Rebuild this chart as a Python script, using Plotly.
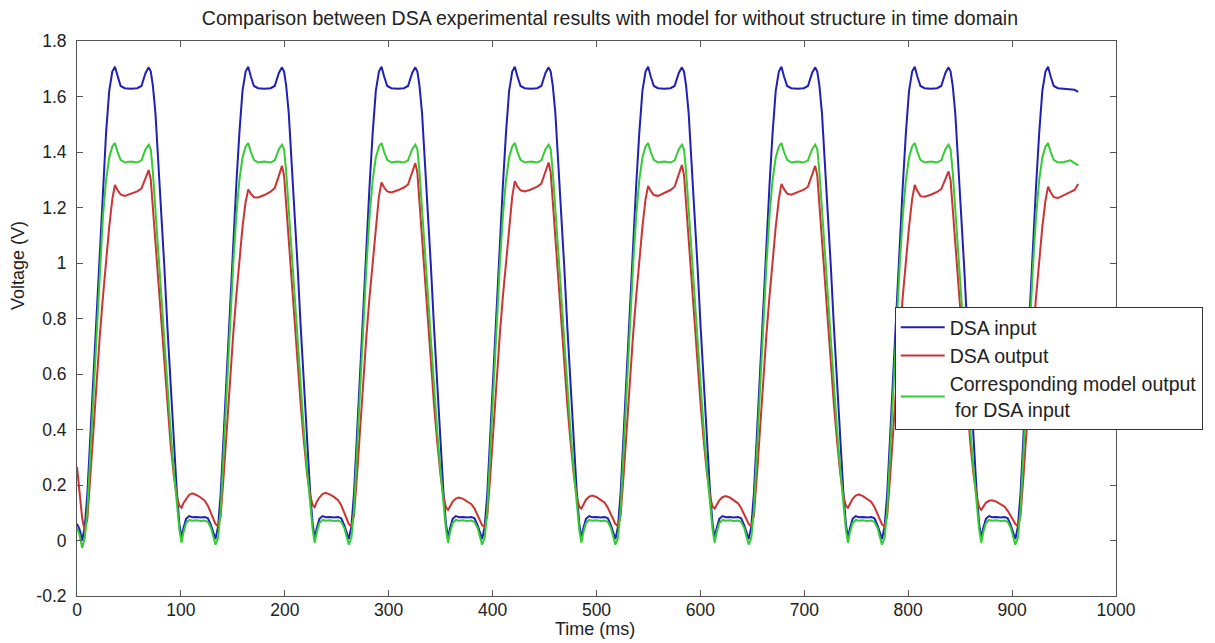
import plotly.graph_objects as go

# Sample times (ms), shared by the three traces
TIME_MS = [
    0, 2.5,
    5, 7.5, 10, 13, 16, 19, 22, 25, 28, 31, 34, 36.5, 39, 42, 46, 52, 58, 62, 66, 69, 71, 73, 75.5, 78, 81, 84, 87, 90, 93, 96, 98.5, 100.5, 102.5, 105, 108, 111, 115, 119, 123, 126, 129, 131.5,
    133.3, 135.8, 138.3, 141.3, 144.3, 147.3, 150.3, 153.3, 156.3, 159.3, 162.3, 164.8, 167.3, 170.3, 174.3, 180.3, 186.3, 190.3, 194.3, 197.3, 199.3, 201.3, 203.8, 206.3, 209.3, 212.3, 215.3, 218.3, 221.3, 224.3, 226.8, 228.8, 230.8, 233.3, 236.3, 239.3, 243.3, 247.3, 251.3, 254.3, 257.3, 259.8,
    261.6, 264.1, 266.6, 269.6, 272.6, 275.6, 278.6, 281.6, 284.6, 287.6, 290.6, 293.1, 295.6, 298.6, 302.6, 308.6, 314.6, 318.6, 322.6, 325.6, 327.6, 329.6, 332.1, 334.6, 337.6, 340.6, 343.6, 346.6, 349.6, 352.6, 355.1, 357.1, 359.1, 361.6, 364.6, 367.6, 371.6, 375.6, 379.6, 382.6, 385.6, 388.1,
    389.9, 392.4, 394.9, 397.9, 400.9, 403.9, 406.9, 409.9, 412.9, 415.9, 418.9, 421.4, 423.9, 426.9, 430.9, 436.9, 442.9, 446.9, 450.9, 453.9, 455.9, 457.9, 460.4, 462.9, 465.9, 468.9, 471.9, 474.9, 477.9, 480.9, 483.4, 485.4, 487.4, 489.9, 492.9, 495.9, 499.9, 503.9, 507.9, 510.9, 513.9, 516.4,
    518.2, 520.7, 523.2, 526.2, 529.2, 532.2, 535.2, 538.2, 541.2, 544.2, 547.2, 549.7, 552.2, 555.2, 559.2, 565.2, 571.2, 575.2, 579.2, 582.2, 584.2, 586.2, 588.7, 591.2, 594.2, 597.2, 600.2, 603.2, 606.2, 609.2, 611.7, 613.7, 615.7, 618.2, 621.2, 624.2, 628.2, 632.2, 636.2, 639.2, 642.2, 644.7,
    646.5, 649, 651.5, 654.5, 657.5, 660.5, 663.5, 666.5, 669.5, 672.5, 675.5, 678, 680.5, 683.5, 687.5, 693.5, 699.5, 703.5, 707.5, 710.5, 712.5, 714.5, 717, 719.5, 722.5, 725.5, 728.5, 731.5, 734.5, 737.5, 740, 742, 744, 746.5, 749.5, 752.5, 756.5, 760.5, 764.5, 767.5, 770.5, 773,
    774.8, 777.3, 779.8, 782.8, 785.8, 788.8, 791.8, 794.8, 797.8, 800.8, 803.8, 806.3, 808.8, 811.8, 815.8, 821.8, 827.8, 831.8, 835.8, 838.8, 840.8, 842.8, 845.3, 847.8, 850.8, 853.8, 856.8, 859.8, 862.8, 865.8, 868.3, 870.3, 872.3, 874.8, 877.8, 880.8, 884.8, 888.8, 892.8, 895.8, 898.8, 901.3,
    903.1, 905.6, 908.1, 911.1, 914.1, 917.1, 920.1, 923.1, 926.1, 929.1, 932.1, 934.6, 937.1, 940.1, 944.1, 950.1, 956.1, 960.1, 963.6,
]

# DSA input voltage (V)
DSA_INPUT_V = [
    0.06, 0.04,
    0.0, 0.05, 0.17, 0.39, 0.62, 0.85, 1.07, 1.28, 1.47, 1.62, 1.69, 1.707, 1.672, 1.638, 1.630, 1.628, 1.630, 1.638, 1.685, 1.705, 1.69, 1.64, 1.54, 1.39, 1.20, 0.99, 0.77, 0.56, 0.36, 0.18, 0.06, 0.01, 0.045, 0.078, 0.088, 0.084, 0.085, 0.083, 0.085, 0.08, 0.055, 0.02,
    0.005, 0.05, 0.17, 0.39, 0.62, 0.85, 1.07, 1.28, 1.47, 1.62, 1.69, 1.707, 1.672, 1.638, 1.630, 1.628, 1.630, 1.638, 1.685, 1.705, 1.69, 1.64, 1.54, 1.39, 1.20, 0.99, 0.77, 0.56, 0.36, 0.18, 0.06, 0.01, 0.045, 0.078, 0.088, 0.084, 0.085, 0.083, 0.085, 0.08, 0.055, 0.02,
    0.005, 0.05, 0.17, 0.39, 0.62, 0.85, 1.07, 1.28, 1.47, 1.62, 1.69, 1.707, 1.672, 1.638, 1.630, 1.628, 1.630, 1.638, 1.685, 1.705, 1.69, 1.64, 1.54, 1.39, 1.20, 0.99, 0.77, 0.56, 0.36, 0.18, 0.06, 0.01, 0.045, 0.078, 0.088, 0.084, 0.085, 0.083, 0.085, 0.08, 0.055, 0.02,
    0.005, 0.05, 0.17, 0.39, 0.62, 0.85, 1.07, 1.28, 1.47, 1.62, 1.69, 1.707, 1.672, 1.638, 1.630, 1.628, 1.630, 1.638, 1.685, 1.705, 1.69, 1.64, 1.54, 1.39, 1.20, 0.99, 0.77, 0.56, 0.36, 0.18, 0.06, 0.01, 0.045, 0.078, 0.088, 0.084, 0.085, 0.083, 0.085, 0.08, 0.055, 0.02,
    0.005, 0.05, 0.17, 0.39, 0.62, 0.85, 1.07, 1.28, 1.47, 1.62, 1.69, 1.707, 1.672, 1.638, 1.630, 1.628, 1.630, 1.638, 1.685, 1.705, 1.69, 1.64, 1.54, 1.39, 1.20, 0.99, 0.77, 0.56, 0.36, 0.18, 0.06, 0.01, 0.045, 0.078, 0.088, 0.084, 0.085, 0.083, 0.085, 0.08, 0.055, 0.02,
    0.005, 0.05, 0.17, 0.39, 0.62, 0.85, 1.07, 1.28, 1.47, 1.62, 1.69, 1.707, 1.672, 1.638, 1.630, 1.628, 1.630, 1.638, 1.685, 1.705, 1.69, 1.64, 1.54, 1.39, 1.20, 0.99, 0.77, 0.56, 0.36, 0.18, 0.06, 0.01, 0.045, 0.078, 0.088, 0.084, 0.085, 0.083, 0.085, 0.08, 0.055, 0.02,
    0.005, 0.05, 0.17, 0.39, 0.62, 0.85, 1.07, 1.28, 1.47, 1.62, 1.69, 1.707, 1.672, 1.638, 1.630, 1.628, 1.630, 1.638, 1.685, 1.705, 1.69, 1.64, 1.54, 1.39, 1.20, 0.99, 0.77, 0.56, 0.36, 0.18, 0.06, 0.01, 0.045, 0.078, 0.088, 0.084, 0.085, 0.083, 0.085, 0.08, 0.055, 0.02,
    0.005, 0.05, 0.17, 0.39, 0.62, 0.85, 1.07, 1.28, 1.47, 1.62, 1.69, 1.707, 1.672, 1.638, 1.630, 1.628, 1.628, 1.624, 1.617,
]

# DSA output voltage (V)
DSA_OUTPUT_V = [
    0.265, 0.16,
    0.08, 0.035, 0.08, 0.24, 0.42, 0.59, 0.74, 0.88, 1.01, 1.13, 1.23, 1.281, 1.263, 1.247, 1.242, 1.25, 1.258, 1.268, 1.305, 1.335, 1.30, 1.20, 1.07, 0.95, 0.79, 0.63, 0.48, 0.35, 0.24, 0.16, 0.125, 0.118, 0.135, 0.15, 0.165, 0.17, 0.164, 0.155, 0.143, 0.125, 0.10, 0.075,
    0.06, 0.05, 0.09, 0.24, 0.42, 0.59, 0.74, 0.88, 1.01, 1.13, 1.22, 1.265, 1.25, 1.237, 1.236, 1.245, 1.257, 1.27, 1.315, 1.35, 1.315, 1.21, 1.08, 0.96, 0.8, 0.64, 0.49, 0.36, 0.245, 0.165, 0.128, 0.12, 0.14, 0.155, 0.167, 0.172, 0.166, 0.157, 0.145, 0.127, 0.102, 0.075,
    0.06, 0.05, 0.09, 0.24, 0.42, 0.59, 0.74, 0.88, 1.01, 1.14, 1.24, 1.29, 1.272, 1.258, 1.254, 1.262, 1.272, 1.283, 1.325, 1.36, 1.325, 1.22, 1.085, 0.96, 0.8, 0.64, 0.49, 0.36, 0.245, 0.16, 0.12, 0.11, 0.125, 0.14, 0.151, 0.155, 0.15, 0.142, 0.131, 0.115, 0.092, 0.07,
    0.055, 0.05, 0.09, 0.24, 0.42, 0.59, 0.74, 0.88, 1.01, 1.14, 1.24, 1.295, 1.276, 1.262, 1.258, 1.265, 1.275, 1.286, 1.328, 1.362, 1.327, 1.22, 1.085, 0.96, 0.8, 0.64, 0.49, 0.36, 0.245, 0.16, 0.122, 0.115, 0.132, 0.147, 0.158, 0.162, 0.157, 0.148, 0.136, 0.118, 0.095, 0.07,
    0.06, 0.05, 0.09, 0.24, 0.42, 0.59, 0.74, 0.88, 1.01, 1.13, 1.23, 1.278, 1.26, 1.245, 1.242, 1.252, 1.263, 1.275, 1.318, 1.353, 1.318, 1.21, 1.08, 0.96, 0.8, 0.64, 0.49, 0.36, 0.245, 0.16, 0.122, 0.115, 0.13, 0.145, 0.156, 0.16, 0.155, 0.146, 0.134, 0.117, 0.094, 0.07,
    0.06, 0.05, 0.09, 0.24, 0.42, 0.59, 0.74, 0.88, 1.01, 1.13, 1.23, 1.285, 1.266, 1.25, 1.246, 1.254, 1.264, 1.275, 1.316, 1.35, 1.315, 1.21, 1.08, 0.96, 0.8, 0.64, 0.49, 0.36, 0.245, 0.162, 0.125, 0.118, 0.135, 0.15, 0.162, 0.166, 0.16, 0.151, 0.139, 0.121, 0.097, 0.072,
    0.058, 0.05, 0.09, 0.24, 0.42, 0.59, 0.74, 0.88, 1.01, 1.13, 1.23, 1.281, 1.26, 1.241, 1.239, 1.246, 1.256, 1.266, 1.302, 1.33, 1.298, 1.2, 1.07, 0.95, 0.79, 0.63, 0.48, 0.35, 0.24, 0.16, 0.12, 0.11, 0.122, 0.136, 0.143, 0.145, 0.14, 0.132, 0.122, 0.107, 0.088, 0.068,
    0.06, 0.05, 0.09, 0.24, 0.42, 0.59, 0.74, 0.88, 1.01, 1.13, 1.225, 1.275, 1.255, 1.237, 1.234, 1.245, 1.255, 1.263, 1.285,
]

# Model output for the DSA input (V)
MODEL_OUTPUT_V = [
    0.045, 0.02,
    -0.027, 0.01, 0.11, 0.33, 0.56, 0.78, 0.99, 1.17, 1.30, 1.38, 1.42, 1.432, 1.40, 1.372, 1.362, 1.366, 1.362, 1.37, 1.41, 1.426, 1.41, 1.33, 1.19, 1.05, 0.89, 0.72, 0.56, 0.40, 0.26, 0.13, 0.04, -0.008, 0.03, 0.063, 0.074, 0.071, 0.073, 0.07, 0.072, 0.067, 0.045, 0.01,
    -0.015, 0.01, 0.11, 0.33, 0.56, 0.78, 0.99, 1.17, 1.30, 1.38, 1.42, 1.432, 1.40, 1.372, 1.362, 1.366, 1.362, 1.37, 1.41, 1.426, 1.41, 1.33, 1.19, 1.05, 0.89, 0.72, 0.56, 0.40, 0.26, 0.13, 0.04, -0.008, 0.03, 0.063, 0.074, 0.071, 0.073, 0.07, 0.072, 0.067, 0.045, 0.01,
    -0.015, 0.01, 0.11, 0.33, 0.56, 0.78, 0.99, 1.17, 1.30, 1.38, 1.42, 1.432, 1.40, 1.372, 1.362, 1.366, 1.362, 1.37, 1.41, 1.426, 1.41, 1.33, 1.19, 1.05, 0.89, 0.72, 0.56, 0.40, 0.26, 0.13, 0.04, -0.008, 0.03, 0.063, 0.074, 0.071, 0.073, 0.07, 0.072, 0.067, 0.045, 0.01,
    -0.015, 0.01, 0.11, 0.33, 0.56, 0.78, 0.99, 1.17, 1.30, 1.38, 1.42, 1.432, 1.40, 1.372, 1.362, 1.366, 1.362, 1.37, 1.41, 1.426, 1.41, 1.33, 1.19, 1.05, 0.89, 0.72, 0.56, 0.40, 0.26, 0.13, 0.04, -0.008, 0.03, 0.063, 0.074, 0.071, 0.073, 0.07, 0.072, 0.067, 0.045, 0.01,
    -0.015, 0.01, 0.11, 0.33, 0.56, 0.78, 0.99, 1.17, 1.30, 1.38, 1.42, 1.432, 1.40, 1.372, 1.362, 1.366, 1.362, 1.37, 1.41, 1.426, 1.41, 1.33, 1.19, 1.05, 0.89, 0.72, 0.56, 0.40, 0.26, 0.13, 0.04, -0.008, 0.03, 0.063, 0.074, 0.071, 0.073, 0.07, 0.072, 0.067, 0.045, 0.01,
    -0.015, 0.01, 0.11, 0.33, 0.56, 0.78, 0.99, 1.17, 1.30, 1.38, 1.42, 1.432, 1.40, 1.372, 1.362, 1.366, 1.362, 1.37, 1.41, 1.426, 1.41, 1.33, 1.19, 1.05, 0.89, 0.72, 0.56, 0.40, 0.26, 0.13, 0.04, -0.008, 0.03, 0.063, 0.074, 0.071, 0.073, 0.07, 0.072, 0.067, 0.045, 0.01,
    -0.015, 0.01, 0.11, 0.33, 0.56, 0.78, 0.99, 1.17, 1.30, 1.38, 1.42, 1.432, 1.40, 1.372, 1.362, 1.366, 1.362, 1.37, 1.41, 1.426, 1.41, 1.33, 1.19, 1.05, 0.89, 0.72, 0.56, 0.40, 0.26, 0.13, 0.04, -0.008, 0.03, 0.063, 0.074, 0.071, 0.073, 0.07, 0.072, 0.067, 0.045, 0.01,
    -0.015, 0.01, 0.11, 0.33, 0.56, 0.78, 0.99, 1.17, 1.30, 1.38, 1.42, 1.432, 1.40, 1.372, 1.362, 1.364, 1.37, 1.36, 1.353,
]

X_TICKS = [0, 100, 200, 300, 400, 500, 600, 700, 800, 900, 1000]
Y_TICKS = [-0.2, 0, 0.2, 0.4, 0.6, 0.8, 1, 1.2, 1.4, 1.6, 1.8]
Y_TICK_LABELS = ["-0.2", "0", "0.2", "0.4", "0.6", "0.8", "1", "1.2", "1.4", "1.6", "1.8"]

FONT = "Liberation Sans, Arial, Helvetica, sans-serif"
TEXT_COLOR = "#222222"
AXIS_COLOR = "#555555"

fig = go.Figure()
fig.add_trace(go.Scatter(x=TIME_MS, y=DSA_INPUT_V, mode="lines", name="DSA input",
                         line=dict(color="#2020b8", width=2)))
fig.add_trace(go.Scatter(x=TIME_MS, y=DSA_OUTPUT_V, mode="lines", name="DSA output",
                         line=dict(color="#cc3333", width=2)))
fig.add_trace(go.Scatter(x=TIME_MS, y=MODEL_OUTPUT_V, mode="lines",
                         name="Corresponding model output<br> for DSA input",
                         line=dict(color="#33cc33", width=2)))

axis_common = dict(
    showgrid=False, zeroline=False, showline=True, linecolor=AXIS_COLOR, linewidth=1,
    mirror="allticks", ticks="inside", ticklen=6, tickcolor=AXIS_COLOR, automargin=False,
    tickfont=dict(family=FONT, size=17.5, color=TEXT_COLOR),
)

label_font = dict(family=FONT, size=18, color=TEXT_COLOR)

fig.update_layout(
    width=1215, height=643,
    margin=dict(l=77, r=96, t=41, b=47),
    paper_bgcolor="white", plot_bgcolor="white",
    font=dict(family=FONT, size=19, color=TEXT_COLOR),
    title=dict(text="Comparison between DSA experimental results with model for without structure in time domain",
               x=0.502, xanchor="center", y=0.971, yanchor="middle",
               font=dict(family=FONT, size=19.5, color=TEXT_COLOR)),
    xaxis=dict(range=[0, 1000], tickvals=X_TICKS, ticklabelstandoff=-2, **axis_common),
    yaxis=dict(range=[-0.2, 1.8], tickvals=Y_TICKS, ticktext=Y_TICK_LABELS, ticklabelstandoff=6,
               **axis_common),
    annotations=[
        dict(text="Time (ms)", xref="paper", yref="paper", x=0.499, y=-0.0595,
             xanchor="center", yanchor="middle", showarrow=False, font=label_font),
        dict(text="Voltage (V)", textangle=-90, xref="paper", yref="paper",
             x=-0.0566, y=0.595, xanchor="center", yanchor="middle",
             showarrow=False, font=label_font),
    ],
    showlegend=True,
    legend=dict(x=0.787, y=0.5207, xanchor="left", yanchor="top",
                bgcolor="white", bordercolor="#333333", borderwidth=1,
                font=dict(family=FONT, size=19.5, color=TEXT_COLOR),
                itemwidth=44, tracegroupgap=0),
)

fig.write_html("out.html")
